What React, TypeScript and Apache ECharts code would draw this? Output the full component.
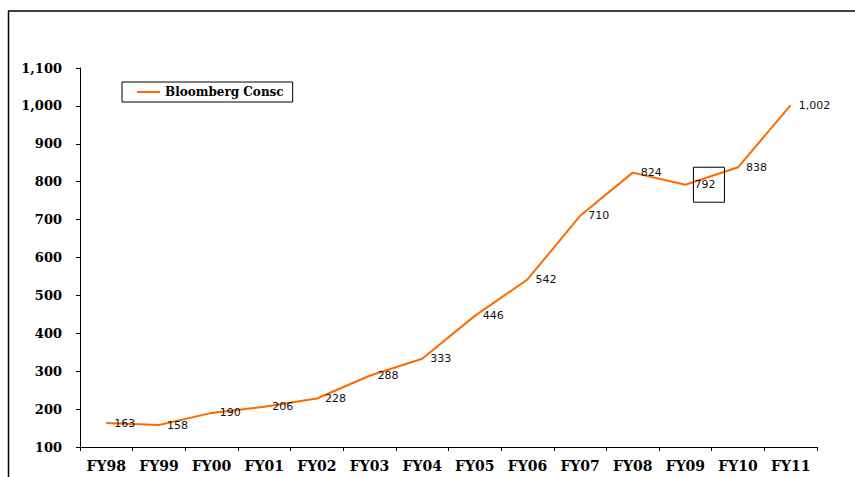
import React, { useEffect, useRef } from "react";
import * as echarts from "echarts";

// Fiscal years on the category axis
const categories = ["FY98", "FY99", "FY00", "FY01", "FY02", "FY03", "FY04", "FY05", "FY06", "FY07", "FY08", "FY09", "FY10", "FY11"];
// Bloomberg consensus values per fiscal year
const consensus = [163, 158, 190, 206, 228, 288, 333, 446, 542, 710, 824, 792, 838, 1002];
// Category index whose value label is boxed
const boxedIndex = 11;
const seriesName = "Bloomberg Consc";

const fmt = (v: number) => v.toLocaleString("en-US");

export default function App() {
  const ref = useRef<HTMLDivElement>(null);

  useEffect(() => {
    document.body.style.margin = "0";
    if (!ref.current) return;
    const chart = echarts.init(ref.current, null, { renderer: "svg" });
    const axisFont = { fontFamily: "DejaVu Serif", fontWeight: "bold" as const, color: "#000" };

    chart.setOption({
      animation: false,
      backgroundColor: "#fff",
      grid: { left: 80, right: 38, top: 68, bottom: 30, containLabel: false },
      legend: {
        left: 122,
        top: 82,
        data: [seriesName],
        icon: "rect",
        itemWidth: 23,
        itemHeight: 2,
        padding: [4, 9, 4, 15],
        borderColor: "#000",
        borderWidth: 1,
        borderRadius: 0,
        textStyle: { ...axisFont, fontSize: 12 },
      },
      xAxis: {
        type: "category",
        data: categories,
        boundaryGap: true,
        axisLine: { lineStyle: { color: "#000", width: 1 } },
        axisTick: { show: true, length: 4, alignWithLabel: false, lineStyle: { color: "#000" } },
        axisLabel: { ...axisFont, fontSize: 14, margin: 12, interval: 0 },
        splitLine: { show: false },
      },
      yAxis: {
        type: "value",
        min: 100,
        max: 1100,
        interval: 100,
        axisLine: { show: true, lineStyle: { color: "#000", width: 1 } },
        axisTick: { show: true, length: 4, lineStyle: { color: "#000" } },
        axisLabel: { ...axisFont, fontSize: 13, margin: 18, formatter: (v: number) => fmt(v) },
        splitLine: { show: false },
      },
      series: [
        {
          name: seriesName,
          type: "line",
          symbol: "circle",
          symbolSize: 0.1,
          showSymbol: true,
          data: consensus.map((v, i) =>
            i === boxedIndex
              ? {
                  value: v,
                  label: { borderColor: "#000", borderWidth: 1, padding: [12, 9, 12, 1] },
                }
              : v
          ),
          lineStyle: { color: "#ff6a00", width: 2 },
          itemStyle: { color: "#ff6a00" },
          label: {
            show: true,
            position: "right",
            distance: 8,
            fontFamily: "DejaVu Sans",
            fontSize: 11,
            color: "#111",
            formatter: (p: any) => fmt(p.value),
          },
          labelLayout: { hideOverlap: false },
        },
      ],
      graphic: [
        { type: "line", shape: { x1: 8, y1: 11, x2: 855, y2: 11 }, style: { stroke: "#000", lineWidth: 1.5 } },
        { type: "line", shape: { x1: 8.5, y1: 11, x2: 8.5, y2: 477 }, style: { stroke: "#000", lineWidth: 1.5 } },
      ],
    });

    return () => chart.dispose();
  }, []);

  return <div ref={ref} style={{ width: 855, height: 477 }} />;
}
